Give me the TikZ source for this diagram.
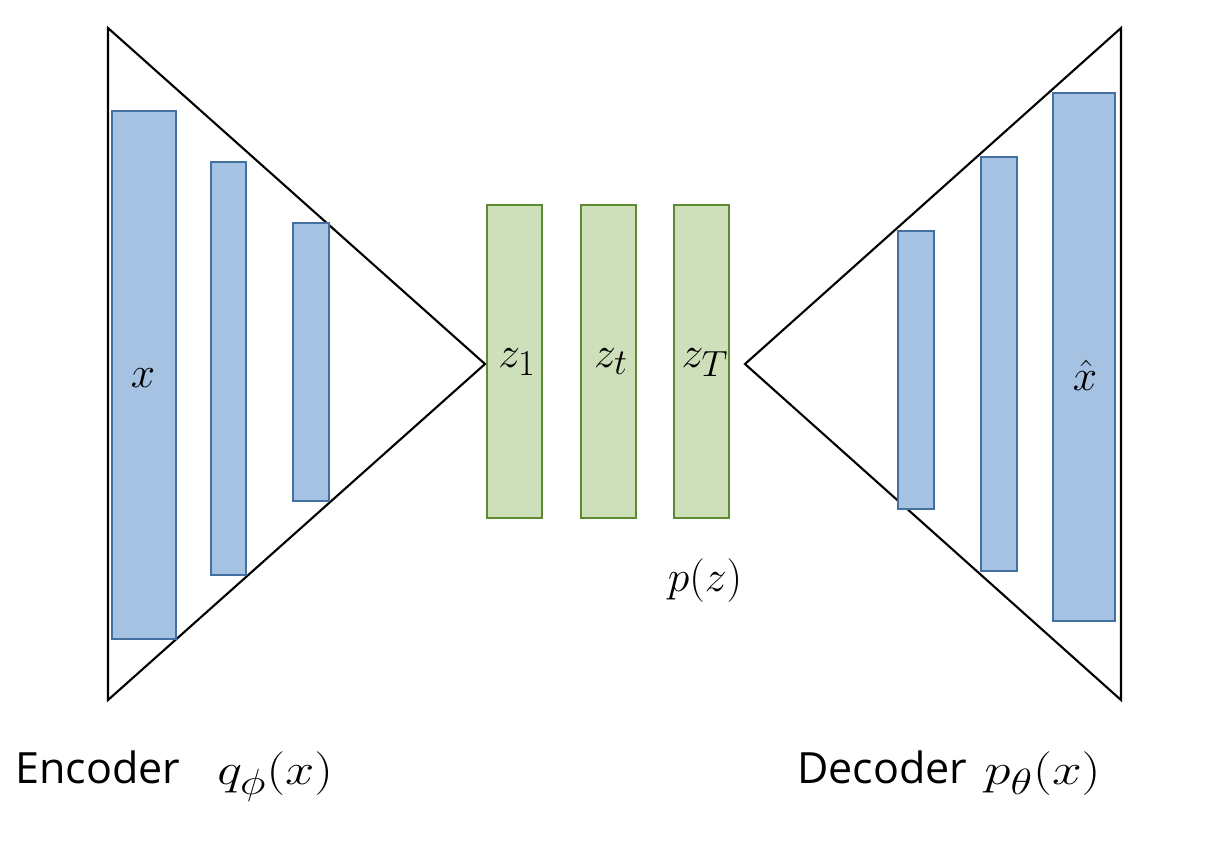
\documentclass[tikz,border=0pt]{standalone}
\usepackage{fontspec}
\setsansfont{Open Sans}
\definecolor{bfill}{HTML}{A6C2E2}
\definecolor{bdraw}{HTML}{44709F}
\definecolor{gfill}{HTML}{CDE0BA}
\definecolor{gdraw}{HTML}{5E8B32}
\begin{document}
\begin{tikzpicture}[x=0.02cm,y=-0.02cm,
  tri/.style={draw=black,line width=1.2pt,line join=miter},
  bluebox/.style={draw=bdraw,fill=bfill,line width=1.5pt},
  greenbox/.style={draw=gdraw,fill=gfill,line width=1.5pt},
  mlabel/.style={inner sep=0pt,font=\fontsize{30}{34}\selectfont},
  qlabel/.style={inner sep=0pt,font=\fontsize{28.5}{32}\selectfont},
  tlabel/.style={inner sep=0pt,font=\sffamily\fontsize{24.5}{28}\selectfont}]
\useasboundingbox (0,0) rectangle (1206,850);
% triangles
\draw[tri] (108,28) -- (108,700) -- (485,364) -- cycle;
\draw[tri] (1121,28) -- (1121,700) -- (745,364) -- cycle;
% encoder boxes
\draw[bluebox] (112,111) rectangle (176,639);
\draw[bluebox] (211,162) rectangle (246,575);
\draw[bluebox] (293,223) rectangle (329,501);
% decoder boxes
\draw[bluebox] (898,231) rectangle (934,509);
\draw[bluebox] (981,157) rectangle (1017,571);
\draw[bluebox] (1053,93) rectangle (1115,621);
% latent boxes
\draw[greenbox] (487,205) rectangle (542,518);
\draw[greenbox] (581,205) rectangle (636,518);
\draw[greenbox] (674,205) rectangle (729,518);
% labels
\node[mlabel] (x) at (143,378) {$x$};
\node[mlabel,anchor=base] (z1) at (517,367) {$z_1$};
\node[mlabel,anchor=base] (zt) at (611,367) {$z_t$};
\node[mlabel,anchor=base] (zT) at (705,367) {$z_T$};
\node[mlabel,anchor=base] (xh) at (1085,390) {$\hat{x}$};
\node[mlabel] (pz) at (705,581) {$p(z)$};
\node[tlabel,anchor=base west] (enc) at (15,783) {Encoder};
\node[qlabel,anchor=base west] (q) at (217,784) {\scalebox{1.2}[1]{$q_\phi(x)$}};
\node[tlabel,anchor=base west] (dec) at (797,783) {Decoder};
\node[qlabel,anchor=base west] (p) at (984,784) {\scalebox{1.22}[1]{$p_\theta(x)$}};
\end{tikzpicture}
\end{document}
